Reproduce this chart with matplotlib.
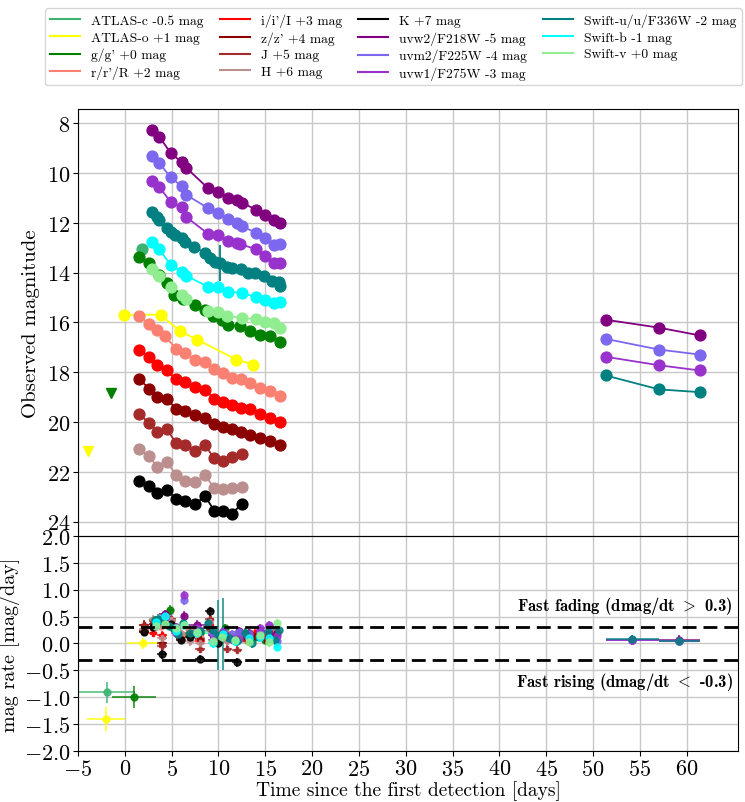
import matplotlib
matplotlib.use('Agg')
import matplotlib.pyplot as plt
import numpy as np

plt.rcParams.update({
    'font.family': 'serif',
    'font.serif': ['cmr10'],
    'mathtext.fontset': 'cm',
    'axes.formatter.use_mathtext': True,
    'axes.unicode_minus': True,
})

# ---------------- light curves (time since first detection [d], observed mag incl. offset)
t_atlasc = [1.88]
m_atlasc = [13.06]
t_atlaso = [-0.09, 3.83, 5.90, 7.75, 11.89, 13.74]
m_atlaso = [15.69, 15.69, 16.36, 16.69, 17.49, 17.69]
t_g = [1.55, 2.62, 3.69, 4.48, 5.26, 6.19, 7.50, 8.58, 9.47, 10.36, 11.07, 12.32, 13.39, 14.46, 15.53, 16.60]
m_g = [13.36, 13.62, 14.09, 14.40, 14.89, 15.06, 15.29, 15.49, 15.76, 15.89, 16.09, 16.16, 16.36, 16.49, 16.56, 16.80]
t_r = [1.55, 2.62, 3.48, 4.30, 5.48, 6.44, 7.50, 8.58, 9.54, 10.47, 11.43, 12.39, 13.39, 14.39, 15.46, 16.53]
m_r = [15.76, 16.05, 16.29, 16.56, 17.06, 17.22, 17.49, 17.60, 17.89, 18.05, 18.22, 18.29, 18.42, 18.62, 18.76, 18.96]
t_i = [1.55, 2.62, 3.48, 4.48, 5.48, 6.44, 7.50, 8.58, 9.54, 10.47, 11.43, 12.39, 13.39, 14.39, 15.46, 16.53]
m_i = [17.12, 17.38, 17.69, 17.92, 18.29, 18.40, 18.58, 18.72, 19.06, 19.20, 19.33, 19.42, 19.49, 19.69, 19.82, 20.00]
t_z = [1.55, 2.62, 3.48, 4.48, 5.48, 6.44, 7.50, 8.58, 9.54, 10.47, 11.43, 12.39, 13.39, 14.39, 15.46, 16.53]
m_z = [18.29, 18.66, 18.98, 19.09, 19.46, 19.56, 19.73, 19.82, 20.09, 20.22, 20.29, 20.42, 20.53, 20.66, 20.76, 20.93]
t_J = [1.55, 2.62, 3.48, 4.48, 5.48, 6.44, 7.50, 8.58, 9.54, 10.47, 11.43, 12.50]
m_J = [19.69, 20.05, 20.40, 20.29, 20.85, 20.93, 21.16, 20.93, 21.46, 21.56, 21.42, 21.29]
t_H = [1.55, 2.62, 3.48, 4.48, 5.48, 6.44, 7.50, 8.58, 9.54, 10.47, 11.43, 12.50]
m_H = [21.09, 21.38, 21.82, 21.60, 22.13, 22.36, 22.40, 22.13, 22.66, 22.69, 22.66, 22.62]
t_K = [1.55, 2.62, 3.48, 4.48, 5.48, 6.44, 7.50, 8.58, 9.54, 10.47, 11.43, 12.50]
m_K = [22.36, 22.58, 22.85, 22.72, 23.09, 23.16, 23.29, 22.98, 23.56, 23.56, 23.69, 23.29]
t_uvw2 = [2.87, 3.69, 4.90, 6.08, 6.55, 8.87, 9.90, 11.00, 11.97, 12.50, 14.00, 14.92, 15.90, 16.60, 51.36, 57.06, 61.40]
m_uvw2 = [8.25, 8.53, 9.20, 9.56, 9.78, 10.60, 10.76, 10.98, 11.06, 11.18, 11.47, 11.69, 11.89, 12.02, 15.89, 16.21, 16.52]
t_uvm2 = [2.87, 3.69, 4.90, 6.08, 6.55, 8.87, 9.90, 11.00, 11.97, 12.50, 14.03, 14.92, 15.90, 16.60, 51.36, 57.06, 61.40]
m_uvm2 = [9.32, 9.60, 10.17, 10.53, 10.87, 11.40, 11.60, 11.85, 12.02, 12.13, 12.40, 12.60, 12.89, 12.85, 16.66, 17.09, 17.29]
t_uvw1 = [2.94, 3.69, 4.90, 6.08, 6.55, 8.87, 9.90, 11.00, 11.97, 12.32, 14.03, 14.92, 15.90, 16.60, 51.36, 57.06, 61.40]
m_uvw1 = [10.32, 10.56, 11.16, 11.38, 11.76, 12.43, 12.49, 12.72, 12.80, 12.85, 13.06, 13.32, 13.60, 13.62, 17.38, 17.72, 17.93]
t_u = [2.94, 3.41, 3.69, 4.48, 4.90, 5.37, 6.08, 6.44, 7.43, 8.58, 9.11, 9.65, 10.18, 10.90, 11.43, 12.43, 13.21, 13.93, 14.82, 15.71, 16.42, 16.60, 51.36, 57.06, 61.40]
m_u = [11.56, 11.76, 11.89, 12.22, 12.36, 12.49, 12.62, 12.76, 12.96, 13.22, 13.42, 13.56, 13.62, 13.76, 13.82, 13.86, 14.02, 14.02, 14.13, 14.32, 14.36, 14.52, 18.13, 18.69, 18.80]
e_u = [0.05, 0.05, 0.05, 0.05, 0.05, 0.05, 0.05, 0.05, 0.05, 0.05, 0.05, 0.05, 0.72, 0.05, 0.05, 0.05, 0.05, 0.05, 0.05, 0.05, 0.05, 0.05, 0.05, 0.05, 0.05]
t_b = [2.94, 3.69, 4.90, 6.08, 6.55, 8.85, 9.90, 11.00, 12.50, 14.03, 14.92, 15.90, 16.60]
m_b = [12.76, 13.06, 13.69, 13.96, 14.12, 14.56, 14.56, 14.76, 14.82, 14.98, 15.09, 15.20, 15.16]
t_v = [2.87, 3.69, 4.90, 6.08, 6.55, 8.93, 9.90, 10.96, 12.50, 14.03, 14.92, 15.90, 16.60]
m_v = [13.86, 14.12, 14.56, 14.89, 15.05, 15.56, 15.60, 15.73, 15.82, 15.86, 16.00, 16.02, 16.22]

# upper limits (triangles)
t_lim_atlaso = [-3.94]
m_lim_atlaso = [21.17]
t_lim_g = [-1.47]
m_lim_g = [18.85]

# ---------------- magnitude rates (mag/day) between consecutive epochs
r_atlasc = [-0.91]
rt_atlasc = [-1.94]
rx_atlasc = [3.0]
re_atlasc = [0.2]
r_atlaso = [-1.40, 0.00, 0.32, 0.18, 0.19, 0.11]
rt_atlaso = [-2.00, 1.90, 4.87, 6.83, 9.82, 12.82]
rx_atlaso = [2.00, 1.70, 1.04, 0.93, 2.07, 0.93]
re_atlaso = [0.22, 0.10, 0.08, 0.08, 0.06, 0.08]
r_g_early = [-1.00]
rt_g_early = [0.97]
rx_g_early = [2.37]
re_g_early = [0.20]

r_g = [0.24, 0.44, 0.39, 0.63, 0.18, 0.18, 0.19, 0.30, 0.15, 0.28, 0.06, 0.19, 0.12, 0.07, 0.22]
r_r = [0.27, 0.28, 0.33, 0.42, 0.17, 0.25, 0.10, 0.30, 0.17, 0.18, 0.07, 0.13, 0.20, 0.13, 0.19]
r_i = [0.24, 0.20, 0.15, 0.37, 0.11, 0.17, 0.05, 0.35, 0.15, 0.14, 0.09, 0.07, 0.20, 0.12, 0.17]
r_z = [0.35, 0.37, 0.00, 0.37, 0.10, 0.16, 0.08, 0.28, 0.14, 0.07, 0.14, 0.11, 0.13, 0.09, 0.16]
r_J = [0.34, 0.41, -0.05, 0.46, 0.08, 0.18, -0.10, 0.45, 0.11, -0.10, -0.12]
r_H = [0.27, 0.45, 0.10, 0.43, 0.20, 0.04, 0.00, 0.40, 0.03, 0.05, 0.08]
r_K = [0.21, 0.31, -0.20, 0.37, 0.07, 0.12, -0.29, 0.60, 0.00, 0.14, -0.35]
r_uvw2 = [0.34, 0.55, 0.31, 0.52, 0.35, 0.16, 0.20, 0.08, 0.23, 0.19, 0.24, 0.20, 0.19, 0.06, 0.07]
r_uvm2 = [0.34, 0.47, 0.31, 0.80, 0.23, 0.19, 0.23, 0.18, 0.21, 0.18, 0.22, 0.30, 0.05, 0.07, 0.05]
r_uvw1 = [0.32, 0.50, 0.19, 0.90, 0.29, 0.06, 0.21, 0.08, 0.09, 0.14, 0.29, 0.34, 0.13, 0.06, 0.05]
r_u = [0.43, 0.46, 0.42, 0.33, 0.28, 0.18, 0.39, 0.20, 0.23, 0.38, 0.26, 0.15, 0.18, 0.11, 0.04, 0.20, 0.00, 0.12, 0.21, 0.06, 0.25, 0.08, 0.05]
re_u_big = {11: 0.65, 12: 0.67}
r_b = [0.40, 0.52, 0.23, 0.34, 0.19, 0.00, 0.18, 0.04, 0.10, 0.12, 0.11, -0.06]
r_v = [0.32, 0.36, 0.28, 0.34, 0.21, 0.04, 0.12, 0.06, 0.03, 0.16, 0.02, 0.38]

bands = [
    ('ATLAS-c -0.5 mag', 'mediumseagreen', t_atlasc, m_atlasc, None, None),
    ('ATLAS-o +1 mag', 'yellow', t_atlaso, m_atlaso, None, None),
    ("g/g' +0 mag", 'green', t_g, m_g, None, r_g),
    ("r/r'/R +2 mag", 'salmon', t_r, m_r, None, r_r),
    ("i/i'/I +3 mag", 'red', t_i, m_i, None, r_i),
    ("z/z' +4 mag", 'darkred', t_z, m_z, None, r_z),
    ('J +5 mag', 'brown', t_J, m_J, None, r_J),
    ('H +6 mag', 'rosybrown', t_H, m_H, None, r_H),
    ('K +7 mag', 'black', t_K, m_K, None, r_K),
    ('uvw2/F218W -5 mag', 'purple', t_uvw2, m_uvw2, None, r_uvw2),
    ('uvm2/F225W -4 mag', 'mediumslateblue', t_uvm2, m_uvm2, None, r_uvm2),
    ('uvw1/F275W -3 mag', 'darkorchid', t_uvw1, m_uvw1, None, r_uvw1),
    ('Swift-u/u/F336W -2 mag', 'teal', t_u, m_u, e_u, r_u),
    ('Swift-b -1 mag', 'cyan', t_b, m_b, None, r_b),
    ('Swift-v +0 mag', 'lightgreen', t_v, m_v, None, r_v),
]

fig = plt.figure(figsize=(7.45, 8.03), dpi=100)
ax1 = fig.add_axes([0.1047, 0.3313, 0.886, 0.5318])
ax2 = fig.add_axes([0.1047, 0.0635, 0.886, 0.2678], sharex=ax1)

handles = []
for label, col, t, m, e, r in bands:
    t = np.asarray(t); m = np.asarray(m)
    early = t < 30
    for sel in (early, ~early):
        if sel.sum() == 0:
            continue
        ax1.plot(t[sel], m[sel], '-', color=col, lw=1.3, zorder=2)
        ax1.plot(t[sel], m[sel], 'o', color=col, ms=7.8, zorder=3)
    if e is not None:
        ax1.errorbar(t, m, yerr=e, fmt='none', ecolor=col, elinewidth=1.3, zorder=2)
    h, = ax1.plot([], [], '-', color=col, lw=1.5, label=label)
    handles.append(h)
    if r is not None:
        tm = 0.5 * (t[1:] + t[:-1])
        hw = 0.5 * (t[1:] - t[:-1])
        keep = hw < 3.5
        tm = tm[keep]; hw = hw[keep]
        rr = np.asarray(r)[:len(tm)]
        ee = np.full(len(rr), 0.08)
        if label.startswith('Swift-u'):
            for k, v in re_u_big.items():
                ee[k] = v
        mk = 'o'
        if label[0] in 'JHz' or label.startswith('i/'):
            mk = 'P'
        ax2.errorbar(tm, rr, xerr=hw, yerr=ee, fmt=mk, color=col, ms=5,
                     elinewidth=1.2, alpha=0.85, zorder=3)

ax1.plot(t_lim_atlaso, m_lim_atlaso, 'v', color='yellow', ms=7, zorder=3)
ax1.plot(t_lim_g, m_lim_g, 'v', color='green', ms=7, zorder=3)

ax2.errorbar(rt_atlasc, r_atlasc, xerr=rx_atlasc, yerr=re_atlasc, fmt='o', color='mediumseagreen', ms=5, elinewidth=1.2, alpha=0.85)
ax2.errorbar(rt_atlaso, r_atlaso, xerr=rx_atlaso, yerr=re_atlaso, fmt='o', color='yellow', ms=5, elinewidth=1.2, alpha=0.85)
ax2.errorbar(rt_g_early, r_g_early, xerr=rx_g_early, yerr=re_g_early, fmt='o', color='green', ms=5, elinewidth=1.2, alpha=0.85)

ax2.axhline(0.3, color='black', ls='--', lw=2, dashes=(5, 2.5), zorder=4)
ax2.axhline(-0.3, color='black', ls='--', lw=2, dashes=(5, 2.5), zorder=4)
ax2.text(64.9, 0.52, r'Fast fading (dmag/dt $>$ 0.3)', ha='right', va='bottom',
         fontsize=12, family='cmb10')
ax2.text(64.9, -0.50, r'Fast rising (dmag/dt $<$ -0.3)', ha='right', va='top',
         fontsize=12, family='cmb10')

ax1.set_xlim(-5, 65.5)
ax1.set_ylim(24.58, 7.42)
ax1.set_yticks(np.arange(8, 25, 2))
ax2.set_ylim(-2, 2)
ax2.set_yticks(np.arange(-2, 2.01, 0.5))
ax2.set_xticks(np.arange(-5, 61, 5))
plt.setp(ax1.get_xticklabels(), visible=False)
ax1.tick_params(axis='x', length=0)

for ax in (ax1, ax2):
    ax.grid(True, color='#c8c8c8', lw=1)
    ax.set_axisbelow(True)
    ax.tick_params(labelsize=16, pad=2)

ax1.set_ylabel('Observed magnitude', fontsize=15)
ax1.yaxis.set_label_coords(-0.058, 0.5)
ax2.set_ylabel('mag rate [mag/day]', fontsize=14.5)
ax2.yaxis.set_label_coords(-0.088, 0.5)
ax2.set_xlabel('Time since the first detection [days]', fontsize=14, labelpad=1)

fig.legend(handles=handles, loc='upper center', bbox_to_anchor=(0.528, 0.997), ncol=4,
           fontsize=9.8, frameon=True, handlelength=2.2, columnspacing=1.2,
           labelspacing=0.3)

fig.savefig('out.png', dpi=100)
